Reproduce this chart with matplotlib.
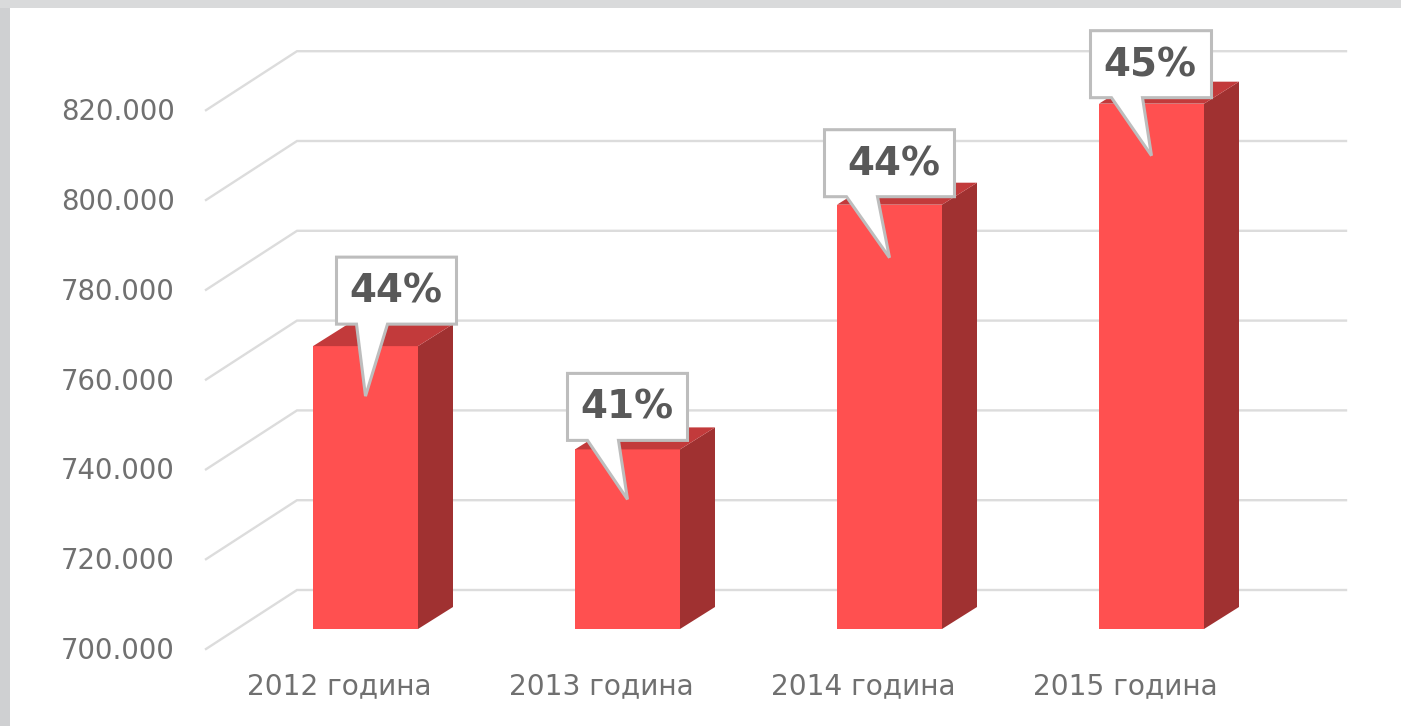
#!/usr/bin/env python3
import matplotlib
matplotlib.use('Agg')
import matplotlib.pyplot as plt
from matplotlib.patches import Polygon, Rectangle

plt.rc('font', family='DejaVu Sans')

categories = ['2012 година', '2013 година', '2014 година', '2015 година']
values = [763000, 740000, 794500, 817000]
shares = ['44%', '41%', '44%', '45%']
y_ticks = [700000, 720000, 740000, 760000, 780000, 800000, 820000]
y_labels = ['700.000', '720.000', '740.000', '760.000', '780.000', '800.000', '820.000']

# scale of the picture
X_PX = 262.0        # pixels per category
Y_PX = 20000 / 89.8  # value per pixel
X0 = 365.5          # pixel of first bar centre
Y0 = 590.0          # pixel of 700.000 on the back wall
BASE = 700000
BAR_SHIFT = 39      # bars stand this many pixels below the back wall

FRONT = '#ff5050'
SIDE = '#a03131'
TOP = '#c23a3b'
GRID = '#dcdcdc'
TEXT = '#707070'

# callout layout in pixels: tail tip below bar top, box edges from the tip
tip_drop = [50, 50, 53, 52]
box_left = [-29, -60, -65, -61]
box_bottom = [-72, -59, -61, -58]
tail_left = [-9, -40, -43, -40]
box_width = [120, 120, 130, 121]
text_shift = [0, 0, 5, 0]


def dx(px):
    return px / X_PX


def dy(px):
    return px * Y_PX


def draw_grid(ax):
    for tick, label in zip(y_ticks, y_labels):
        ax.plot([dx(206 - X0), dx(297 - X0), dx(1346 - X0)],
                [tick - dy(59), tick, tick],
                color=GRID, lw=1.7, solid_joinstyle='miter', zorder=1)
        ax.text(dx(175 - X0), tick - dy(61), label, ha='right', va='center',
                fontsize=19.8, color=TEXT)


def draw_bar(ax, i, value):
    half = dx(52.5)
    depth_x, depth_y = dx(35), dy(22)
    bottom = BASE - dy(BAR_SHIFT)
    top = value - dy(BAR_SHIFT)
    left, right = i - half, i + half
    ax.add_patch(Rectangle((left, bottom), right - left, top - bottom,
                           fc=FRONT, ec='none', zorder=3))
    ax.add_patch(Polygon([(right, bottom), (right + depth_x, bottom + depth_y),
                          (right + depth_x, top + depth_y), (right, top)],
                         fc=SIDE, ec='none', zorder=3))
    ax.add_patch(Polygon([(left, top), (left + depth_x, top + depth_y),
                          (right + depth_x, top + depth_y), (right, top)],
                         fc=TOP, ec='none', zorder=3))
    ax.text(i - dx(26.5), bottom - dy(57), categories[i], ha='center', va='center',
            fontsize=20.2, color=TEXT)


def draw_callout(ax, i, value):
    tip_x, tip_y = i, value - dy(BAR_SHIFT + tip_drop[i])
    left = tip_x + dx(box_left[i])
    right = left + dx(box_width[i])
    bottom = tip_y + dy(-box_bottom[i])
    top = bottom + dy(67)
    tail_a = tip_x + dx(tail_left[i])
    tail_b = tail_a + dx(31)
    ax.add_patch(Polygon([(left, bottom), (tail_a, bottom), (tip_x, tip_y),
                          (tail_b, bottom), (right, bottom), (right, top), (left, top)],
                         fc='white', ec='#bdbdbd', lw=2.2, joinstyle='miter', zorder=5))
    ax.text((left + right) / 2 + dx(text_shift[i] - 1), (bottom + top) / 2 - dy(1), shares[i],
            ha='center', va='center', fontsize=28, fontweight='bold',
            color='#595959', zorder=6)


def main():
    fig = plt.figure(figsize=(14.01, 7.26), dpi=100)
    ax = fig.add_axes([0, 0, 1, 1])
    ax.set_xlim(dx(0 - X0), dx(1401 - X0))
    ax.set_ylim(BASE - dy(726 - Y0), BASE + dy(Y0))
    ax.axis('off')

    # grey frame of the screenshot
    ax.add_patch(Rectangle((0, 0), 10 / 1401, 1, transform=ax.transAxes,
                           fc='#cfd0d2', ec='none', zorder=8))
    ax.add_patch(Rectangle((0, 1 - 8 / 726), 1, 8 / 726, transform=ax.transAxes,
                           fc='#d9dadb', ec='none', zorder=8))

    draw_grid(ax)
    for i, value in enumerate(values):
        draw_bar(ax, i, value)
    for i, value in enumerate(values):
        draw_callout(ax, i, value)

    fig.savefig('out.png', dpi=100)


if __name__ == '__main__':
    main()
